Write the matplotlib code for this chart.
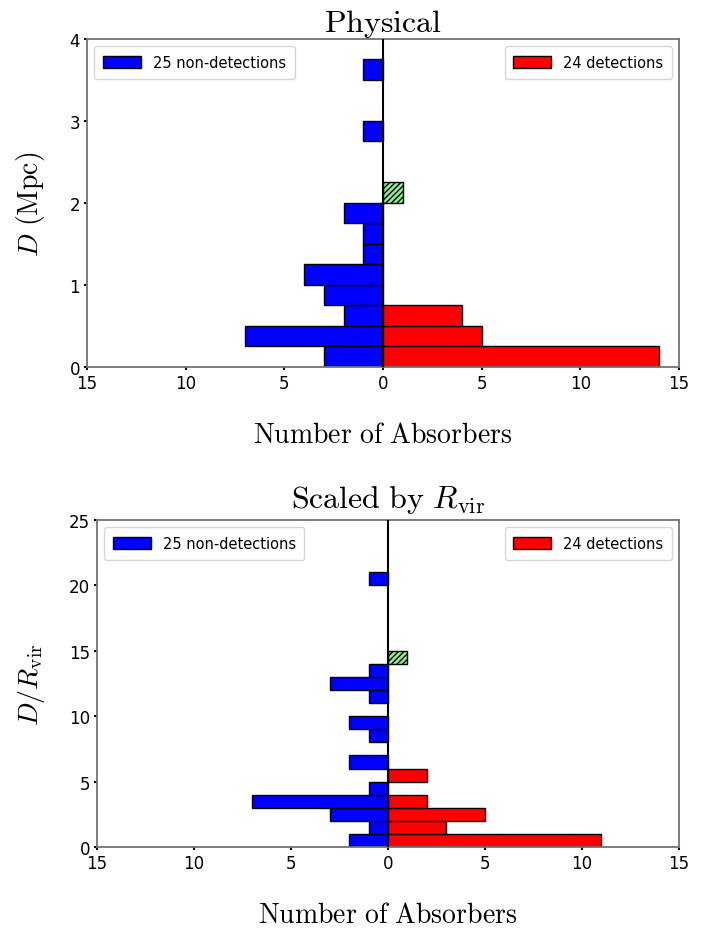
import numpy as np
import matplotlib
matplotlib.use('Agg')
import matplotlib.pyplot as plt

plt.rcParams['mathtext.fontset'] = 'cm'
plt.rcParams['font.family'] = 'DejaVu Sans'
plt.rcParams['hatch.linewidth'] = 1.0

# physical impact parameter, 0.25 Mpc bins (lower edges of non-empty bins)
phys_width = 0.25
phys_non_y = [0.0, 0.25, 0.5, 0.75, 1.0, 1.25, 1.5, 1.75, 2.75, 3.5]
phys_non_n = [3, 7, 2, 3, 4, 1, 1, 2, 1, 1]
phys_det_y = [0.0, 0.25, 0.5]
phys_det_n = [14, 5, 4]
phys_amb_y = [2.0]
phys_amb_n = [1]

# impact parameter scaled by R_vir, bins of 1
scal_width = 1.0
scal_non_y = [0, 1, 2, 3, 4, 6, 8, 9, 11, 12, 13, 20]
scal_non_n = [2, 1, 3, 7, 1, 2, 1, 2, 1, 3, 1, 1]
scal_det_y = [0, 1, 2, 3, 5]
scal_det_n = [11, 3, 5, 2, 2]
scal_amb_y = [14]
scal_amb_n = [1]

xticks = [-15, -10, -5, 0, 5, 10, 15]
xticklabels = ['15', '10', '5', '0', '5', '10', '15']


def draw_panel(ax, width, non_y, non_n, det_y, det_n, amb_y, amb_n,
               ylim, yticks, ylabel, title, titlepad):
    ax.barh(non_y, [-n for n in non_n], height=width, align='edge',
            color='blue', edgecolor='black', linewidth=1.0,
            label='25 non-detections')
    ax.barh(det_y, det_n, height=width, align='edge',
            color='red', edgecolor='black', linewidth=1.0,
            label='24 detections')
    ax.barh(amb_y, amb_n, height=width, align='edge',
            color='lightgreen', edgecolor='black', linewidth=1.0,
            hatch='//////')
    ax.axvline(0, color='black', linewidth=1.5, zorder=3)

    ax.set_xlim(-15, 15)
    ax.set_ylim(*ylim)
    ax.set_xticks(xticks)
    ax.set_xticklabels(xticklabels)
    ax.set_yticks(yticks)
    ax.tick_params(length=2, width=1.5, pad=3, labelsize=12)
    for s in ax.spines.values():
        s.set_color('0.45')
        s.set_linewidth(1.3)

    ax.set_xlabel(r'$\mathrm{Number\ of\ Absorbers}$', fontsize=20, labelpad=20)
    ax.set_ylabel(ylabel, fontsize=20, labelpad=16)
    ax.set_title(title, fontsize=23, pad=titlepad)

    handles, labels = ax.get_legend_handles_labels()
    leg1 = ax.legend([handles[0]], [labels[0]], loc='upper left', fontsize=10.5,
                     handlelength=2.6, handleheight=0.9, borderpad=0.6)
    ax.add_artist(leg1)
    ax.legend([handles[1]], [labels[1]], loc='upper right', fontsize=10.5,
              handlelength=2.6, handleheight=0.9, borderpad=0.6)


fig = plt.figure(figsize=(7.11, 9.29), dpi=100)
ax1 = fig.add_axes([0.1224, 0.6039, 0.8326, 0.3531])
ax2 = fig.add_axes([0.1364, 0.0872, 0.8186, 0.352])

draw_panel(ax1, phys_width, phys_non_y, phys_non_n, phys_det_y, phys_det_n,
           phys_amb_y, phys_amb_n, (0, 4), [0, 1, 2, 3, 4],
           r'$D\ \mathrm{(Mpc)}$', r'$\mathrm{Physical}$', 3)
draw_panel(ax2, scal_width, scal_non_y, scal_non_n, scal_det_y, scal_det_n,
           scal_amb_y, scal_amb_n, (0, 25), [0, 5, 10, 15, 20, 25],
           r'$D/R_{\mathrm{vir}}$', r'$\mathrm{Scaled\ by\ }R_{\mathrm{vir}}$', 9)

fig.savefig('out.png', dpi=100)
